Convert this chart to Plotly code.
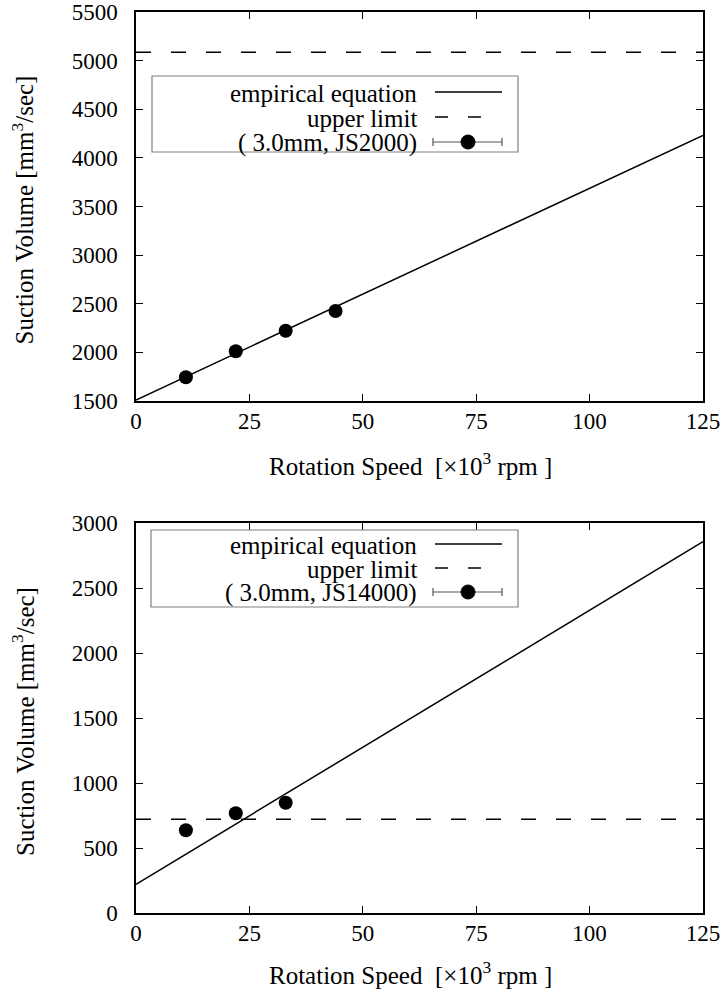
import plotly.graph_objects as go

W, H = 727, 996

# ---- data ----
speed_top = [11, 22, 33, 44]
volume_top = [1744, 2011, 2223, 2425]
emp_x_top = [0, 125]
emp_y_top = [1510, 4232]
limit_top = 5085
label_top = "( 3.0mm, JS2000)"

speed_bot = [11, 22, 33]
volume_bot = [636, 767, 848]
emp_x_bot = [0, 125]
emp_y_bot = [221, 2856]
limit_bot = 721
label_bot = "( 3.0mm, JS14000)"

x_ticks = [0, 25, 50, 75, 100, 125]
y_ticks_top = [1500, 2000, 2500, 3000, 3500, 4000, 4500, 5000, 5500]
y_ticks_bot = [0, 500, 1000, 1500, 2000, 2500, 3000]

FONT = "'Times New Roman', 'Liberation Serif', 'DejaVu Serif', serif"
FS_TICK = 23
FS_TEXT = 25

def px(x):
    return x / W

def py(y):
    return 1 - y / H

fig = go.Figure()

def add_panel(xa, ya, sx, sy, ex, ey, lim):
    fig.add_trace(go.Scatter(x=ex, y=ey, mode="lines", xaxis=xa, yaxis=ya,
                             line=dict(color="black", width=1.5), showlegend=False))
    fig.add_trace(go.Scatter(x=[ex[0], ex[-1]], y=[lim, lim], mode="lines", xaxis=xa, yaxis=ya,
                             line=dict(color="black", width=1.5, dash="15px,20px"), showlegend=False))
    fig.add_trace(go.Scatter(x=sx, y=sy, mode="markers", xaxis=xa, yaxis=ya,
                             marker=dict(color="black", size=14), showlegend=False))

add_panel("x", "y", speed_top, volume_top, emp_x_top, emp_y_top, limit_top)
add_panel("x2", "y2", speed_bot, volume_bot, emp_x_bot, emp_y_bot, limit_bot)

axis_common = dict(showgrid=False, zeroline=False, showline=True, linecolor="black", linewidth=1.5,
                   mirror="allticks", ticks="inside", ticklen=7, tickwidth=1.2, tickcolor="black",
                   automargin=False,
                   tickfont=dict(family=FONT, size=FS_TICK, color="black"))

xdom = [px(136), px(703)]
fig.update_layout(
    width=W, height=H, margin=dict(l=0, r=0, t=0, b=0, pad=0),
    paper_bgcolor="white", plot_bgcolor="white",
    font=dict(family=FONT, size=FS_TEXT, color="black"),
    xaxis=dict(domain=xdom, range=[0, 125], tickvals=x_ticks, anchor="y",
               ticklabelstandoff=-1, **axis_common),
    yaxis=dict(domain=[py(401), py(12)], range=[1500, 5500], tickvals=y_ticks_top, anchor="x",
               ticklabelstandoff=12, **axis_common),
    xaxis2=dict(domain=xdom, range=[0, 125], tickvals=x_ticks, anchor="y2",
                ticklabelstandoff=-1, **axis_common),
    yaxis2=dict(domain=[py(913), py(523)], range=[0, 3000], tickvals=y_ticks_bot, anchor="x2",
                ticklabelstandoff=12, **axis_common),
)

shapes = []
annotations = []

xtitle = "Rotation Speed\u00a0\u00a0[×10<sup>3</sup> rpm\u00a0]"
ytitle = "Suction Volume [mm<sup>3</sup>/sec]"
for (ytop, ybot, xt_y) in [(12, 401, 464), (523, 913, 973)]:
    annotations.append(dict(x=px(410), y=py(xt_y), xref="paper", yref="paper", text=xtitle,
                            showarrow=False, font=dict(family=FONT, size=FS_TEXT, color="black"),
                            xanchor="center", yanchor="middle"))
    annotations.append(dict(x=px(23), y=py((ytop + ybot) / 2 + 4), xref="paper", yref="paper", text=ytitle,
                            showarrow=False, textangle=-90, font=dict(family=FONT, size=FS_TEXT, color="black"),
                            xanchor="center", yanchor="middle"))

def legend(box, rows, label):
    l, t, r, b = box
    shapes.append(dict(type="rect", xref="paper", yref="paper", x0=px(l), x1=px(r), y0=py(b), y1=py(t),
                       line=dict(color="#808080", width=1.2), fillcolor="white", layer="above"))
    texts = ["empirical equation", "upper limit", label]
    for i, (txt, yy) in enumerate(zip(texts, rows)):
        annotations.append(dict(x=px(419), y=py(yy + 1), xref="paper", yref="paper", text=txt,
                                showarrow=False, xanchor="right", yanchor="middle",
                                font=dict(family=FONT, size=FS_TEXT, color="black")))
    shapes.append(dict(type="line", xref="paper", yref="paper", x0=px(435), x1=px(502),
                       y0=py(rows[0]), y1=py(rows[0]), line=dict(color="black", width=1.5), layer="above"))
    for a, c in [(435, 448), (468, 481)]:
        shapes.append(dict(type="line", xref="paper", yref="paper", x0=px(a), x1=px(c),
                           y0=py(rows[1]), y1=py(rows[1]), line=dict(color="black", width=1.5), layer="above"))
    y3 = rows[2]
    shapes.append(dict(type="line", xref="paper", yref="paper", x0=px(433), x1=px(502),
                       y0=py(y3), y1=py(y3), line=dict(color="#555", width=1.2), layer="above"))
    for xc in (433, 502):
        shapes.append(dict(type="line", xref="paper", yref="paper", x0=px(xc), x1=px(xc),
                           y0=py(y3 - 4), y1=py(y3 + 4), line=dict(color="#555", width=1.2), layer="above"))
    shapes.append(dict(type="circle", xref="paper", yref="paper", x0=px(468 - 7), x1=px(468 + 7),
                       y0=py(y3 + 7), y1=py(y3 - 7), line=dict(color="black", width=1),
                       fillcolor="black", layer="above"))

legend((152, 76, 518, 152), [92, 117, 142], label_top)
legend((151, 530, 518, 607), [544, 568, 592], label_bot)

fig.update_layout(shapes=shapes, annotations=annotations)
fig.write_html("out.html")
